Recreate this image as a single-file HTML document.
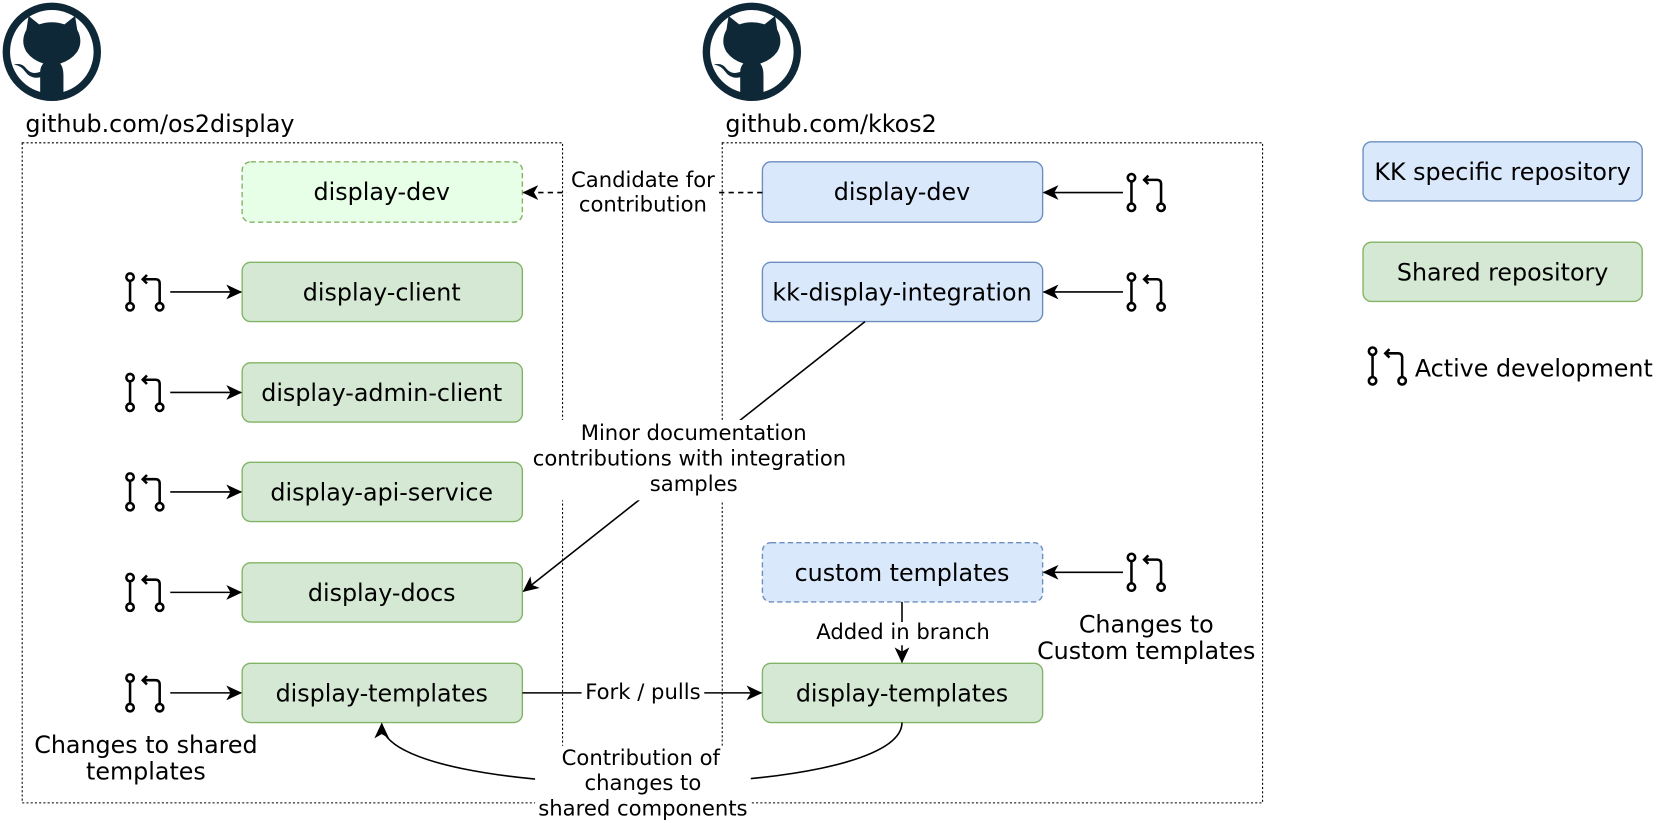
<!DOCTYPE html>
<html><head><meta charset="utf-8"><style>
html,body{margin:0;padding:0;background:#fff;}
svg{display:block;font-family:"DejaVu Sans","Liberation Sans",sans-serif;}
</style></head><body>
<svg width="1657" height="823" viewBox="0 0 1567 778" preserveAspectRatio="none" xmlns="http://www.w3.org/2000/svg">
<defs>
<marker id="ar" markerWidth="16" markerHeight="14" refX="14" refY="7" orient="auto" markerUnits="userSpaceOnUse">
<path d="M0,0 L15,7 L0,14 L4,7 Z" fill="#000"/></marker>
<g id="pr" fill="none" stroke="#000" stroke-width="2.4">
<circle cx="5" cy="4" r="3.5" fill="#fff"/><circle cx="5" cy="32" r="3.5" fill="#fff"/><circle cx="33" cy="32" r="3.5" fill="#fff"/>
<line x1="5" y1="8" x2="5" y2="28"/>
<path d="M33,28 V10 Q33,6 29,6 H18"/>
<path d="M21,2 L17,6 L21,10"/>
</g>
<g id="gh">
<circle cx="0" cy="0" r="43" fill="#fff" stroke="#0f2838" stroke-width="7"/>
<path fill="#0f2838" d="M-24,-21 L-22,-34 L-12,-26 Q0,-30 12,-26 L22,-34 L24,-21 Q30,-10 24,0 Q18,8 8,11 Q11,15 11,22 L11,39 Q0,42 -11,39 L-11,24 Q-20,26 -25,19 Q-29,13 -36,12 Q-28,10 -24,16 Q-19,22 -11,19 Q-11,14 -8,11 Q-18,8 -24,0 Q-30,-10 -24,-21 Z"/>
</g>
</defs>
<use href="#gh" x="49" y="49"/>
<use href="#gh" x="711" y="49"/>
<g font-size="22.5" fill="#000">
<text x="24" y="125">github.com/os2display</text>
<text x="686" y="125">github.com/kkos2</text>
</g>
<rect x="21" y="135" width="511" height="624" fill="none" stroke="#000" stroke-width="1" stroke-dasharray="2,2"/>
<rect x="683" y="135" width="511" height="624" fill="none" stroke="#000" stroke-width="1" stroke-dasharray="2,2"/>

<g stroke-width="1.3">
<rect x="229" y="153" width="265" height="57" rx="8" fill="#e6ffe6" stroke="#82b366" stroke-dasharray="5,3"/>
<rect x="229" y="248" width="265" height="56" rx="8" fill="#d5e8d4" stroke="#82b366"/>
<rect x="229" y="343" width="265" height="56" rx="8" fill="#d5e8d4" stroke="#82b366"/>
<rect x="229" y="437" width="265" height="56" rx="8" fill="#d5e8d4" stroke="#82b366"/>
<rect x="229" y="532" width="265" height="56" rx="8" fill="#d5e8d4" stroke="#82b366"/>
<rect x="229" y="627" width="265" height="56" rx="8" fill="#d5e8d4" stroke="#82b366"/>
<rect x="721" y="153" width="265" height="57" rx="8" fill="#dae8fc" stroke="#6c8ebf"/>
<rect x="721" y="248" width="265" height="56" rx="8" fill="#dae8fc" stroke="#6c8ebf"/>
<rect x="721" y="513" width="265" height="56" rx="8" fill="#dae8fc" stroke="#6c8ebf" stroke-dasharray="5,3"/>
<rect x="721" y="627" width="265" height="56" rx="8" fill="#d5e8d4" stroke="#82b366"/>
<rect x="1289" y="134" width="264" height="56" rx="8" fill="#dae8fc" stroke="#6c8ebf"/>
<rect x="1289" y="229" width="264" height="56" rx="8" fill="#d5e8d4" stroke="#82b366"/>
</g>

<g font-size="22.5" text-anchor="middle" fill="#000">
<text x="361" y="189">display-dev</text>
<text x="361" y="284">display-client</text>
<text x="361" y="379">display-admin-client</text>
<text x="361" y="473">display-api-service</text>
<text x="361" y="568">display-docs</text>
<text x="361" y="663">display-templates</text>
<text x="853" y="189">display-dev</text>
<text x="853" y="284">kk-display-integration</text>
<text x="853" y="549">custom templates</text>
<text x="853" y="663">display-templates</text>
<text x="1421" y="170">KK specific repository</text>
<text x="1421" y="265">Shared repository</text>
<text x="1084" y="598">Changes to</text>
<text x="1084" y="623">Custom templates</text>
<text x="138" y="712">Changes to shared</text>
<text x="138" y="737">templates</text>
</g>
<text x="1338" y="356" font-size="22.5">Active development</text>

<use href="#pr" x="118" y="258"/>
<use href="#pr" x="118" y="353"/>
<use href="#pr" x="118" y="447"/>
<use href="#pr" x="118" y="542"/>
<use href="#pr" x="118" y="637"/>
<use href="#pr" x="1065" y="164"/>
<use href="#pr" x="1065" y="258"/>
<use href="#pr" x="1065" y="523"/>
<use href="#pr" x="1293" y="328"/>

<g stroke="#000" stroke-width="1.5" fill="none" marker-end="url(#ar)">
<line x1="161" y1="276" x2="228" y2="276"/>
<line x1="161" y1="371" x2="228" y2="371"/>
<line x1="161" y1="465" x2="228" y2="465"/>
<line x1="161" y1="560" x2="228" y2="560"/>
<line x1="161" y1="655" x2="228" y2="655"/>
<line x1="1062" y1="182" x2="987" y2="182"/>
<line x1="1062" y1="276" x2="987" y2="276"/>
<line x1="1062" y1="541" x2="987" y2="541"/>
<line x1="721" y1="182" x2="495" y2="182" stroke-dasharray="5,4"/>
<line x1="818" y1="304" x2="495" y2="559"/>
<line x1="494" y1="655" x2="720" y2="655"/>
<line x1="853" y1="569" x2="853" y2="626"/>
<path d="M853,683 C853,760 361,760 361,684"/>
</g>

<g font-size="20" text-anchor="middle" fill="#000">
<rect x="536" y="158" width="144" height="48" fill="#fff"/>
<text x="608" y="177">Candidate for</text>
<text x="608" y="200">contribution</text>
<rect x="500" y="397" width="306" height="76" fill="#fff"/>
<text x="656" y="416">Minor documentation</text>
<text x="652" y="440">contributions with integration</text>
<text x="656" y="464">samples</text>
<rect x="550" y="644" width="116" height="22" fill="#fff"/>
<text x="608" y="661">Fork / pulls</text>
<rect x="770" y="588" width="166" height="22" fill="#fff"/>
<text x="854" y="604">Added in branch</text>
<rect x="506" y="705" width="204" height="73" fill="#fff"/>
<text x="606" y="723">Contribution of</text>
<text x="608" y="747">changes to</text>
<text x="608" y="771">shared components</text>
</g>
</svg>
</body></html>
